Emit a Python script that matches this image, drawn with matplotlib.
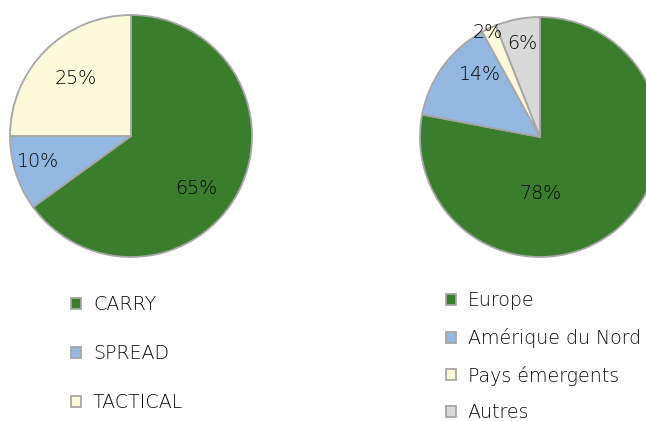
import matplotlib
matplotlib.use("Agg")
import matplotlib.pyplot as plt

plt.rcParams['font.family'] = ['DejaVu Sans']

# Data
left_labels = ["CARRY", "SPREAD", "TACTICAL"]
left_values = [65, 10, 25]
right_labels = ["Europe", "Amérique du Nord", "Pays émergents", "Autres"]
right_values = [78, 14, 2, 6]

left_colors = ["#3A7D2C", "#95B8E2", "#FFF9DB"]
right_colors = ["#3A7D2C", "#95B8E2", "#FFF9DB", "#D9D9D9"]
edge = "#A6A6A6"
txt = "#000000"

# label positions (fraction of radius) as Excel placed them
left_lab_xy = [(0.537, -0.430), (-0.769, -0.207), (-0.455, 0.479)]
right_lab_xy = [(0.0, -0.467), (-0.50, 0.525), (-0.433, 0.867), (-0.15, 0.783)]

W, H = 646, 421
fig = plt.figure(figsize=(W / 100, H / 100), dpi=100)


def make_pie(cx, cy, r, values, colors, lab_xy):
    ax = fig.add_axes([(cx - r) / W, (H - cy - r) / H, 2 * r / W, 2 * r / H])
    wedges, _ = ax.pie(values, colors=colors, startangle=90, counterclock=False,
                       radius=1, wedgeprops=dict(edgecolor=edge, linewidth=1.3))
    for v, (x, y) in zip(values, lab_xy):
        ax.text(x, y, f"{v}%", ha="center", va="center", fontsize=13.7,
                color=txt, fontweight="light")
    ax.set_xlim(-1, 1)
    ax.set_ylim(-1, 1)
    ax.set_aspect("equal")
    ax.axis("off")
    return ax, wedges


axl, wl = make_pie(131, 136, 121, left_values, left_colors, left_lab_xy)
axr, wr = make_pie(540, 137, 120, right_values, right_colors, right_lab_xy)

leg_kw = dict(frameon=False, handlelength=0.5, handleheight=0.5,
              prop=dict(size=13.7, weight="light"),
              handletextpad=0.65, borderpad=0, borderaxespad=0, loc="upper left",
              bbox_transform=fig.transFigure, labelcolor="#0A0A0A")
fig.legend(wl, left_labels, bbox_to_anchor=(71 / W, 1 - 295.5 / H),
           labelspacing=1.57, **leg_kw)
fig.legend(wr, right_labels, bbox_to_anchor=(446 / W, 1 - 291.5 / H),
           labelspacing=0.92, **leg_kw)

fig.savefig("out.png", dpi=100)
